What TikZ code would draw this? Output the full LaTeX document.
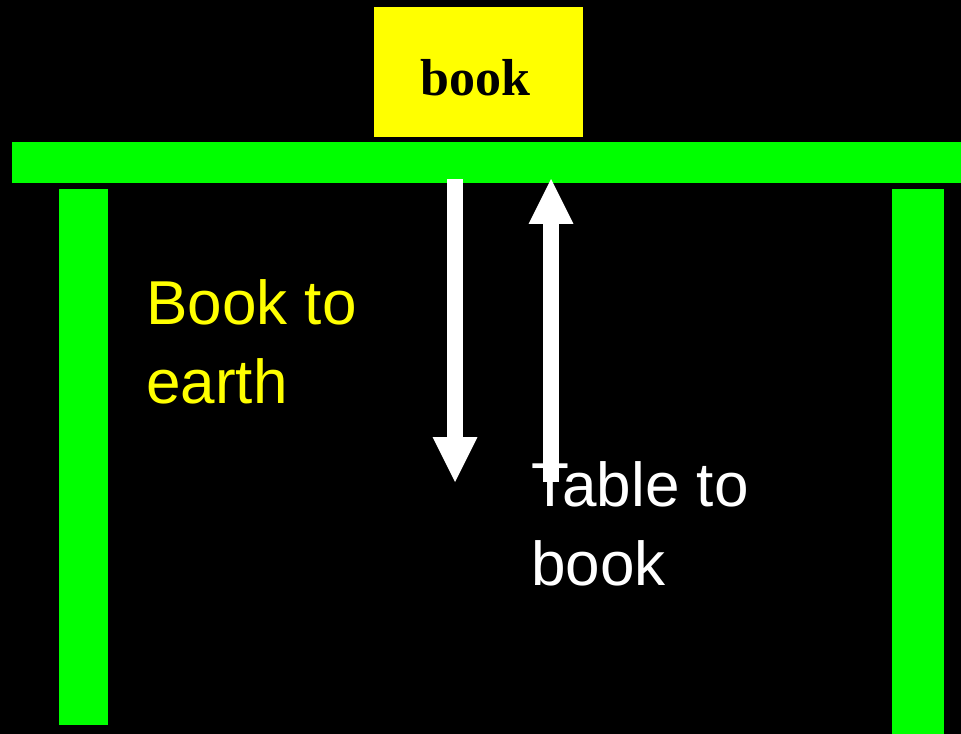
\documentclass[tikz,border=0pt]{standalone}
\usepackage{fontspec}
\setmainfont{Liberation Sans}
\newfontfamily\bookfont{Liberation Serif}
\usetikzlibrary{arrows.meta}
\definecolor{tablegreen}{RGB}{0,255,0}
\definecolor{bookyellow}{RGB}{255,255,0}

\begin{document}
\begin{tikzpicture}[
    x=0.02cm, y=-0.02cm,
    board/.style={fill=tablegreen, inner sep=0pt},
    bookbox/.style={fill=bookyellow, inner sep=0pt, minimum width=4.18cm, minimum height=2.6cm},
    force/.style={white, line width=0.32cm, -{Triangle[length=0.9cm, width=0.9cm, line width=0pt 0 0]}},
    label/.style={inner sep=0pt, anchor=base west, align=left, font=\fontsize{35.3pt}{44.4pt}\selectfont}
]

\fill[black] (0,0) rectangle (961,734);
\useasboundingbox (0,0) rectangle (961,734);

\node[board, minimum width=18.98cm, minimum height=0.82cm] (top) at (486.5,162.5) {};
\node[board, minimum width=0.98cm, minimum height=10.72cm] (legL) at (83.5,457) {};
\node[board, minimum width=1.04cm, minimum height=10.9cm] (legR) at (918,461.5) {};

\node[bookbox] (book) at (478.5,72) {};
\node[anchor=base, inner sep=0pt, font=\bookfont\bfseries\fontsize{29.6pt}{30pt}\selectfont] (booktxt) at (475.5,95) {book};

\coordinate (w0) at (455,179);
\coordinate (w1) at (455,482);
\coordinate (n0) at (551,482);
\coordinate (n1) at (551,179);

\draw[force] (w0) -- (w1);
\draw[force] (n0) -- (n1);

\node[label, text=bookyellow] (weight) at (146,403) {Book to\\earth};
\node[label, text=white] (normal) at (531,585) {Table to\\book};

\end{tikzpicture}
\end{document}
